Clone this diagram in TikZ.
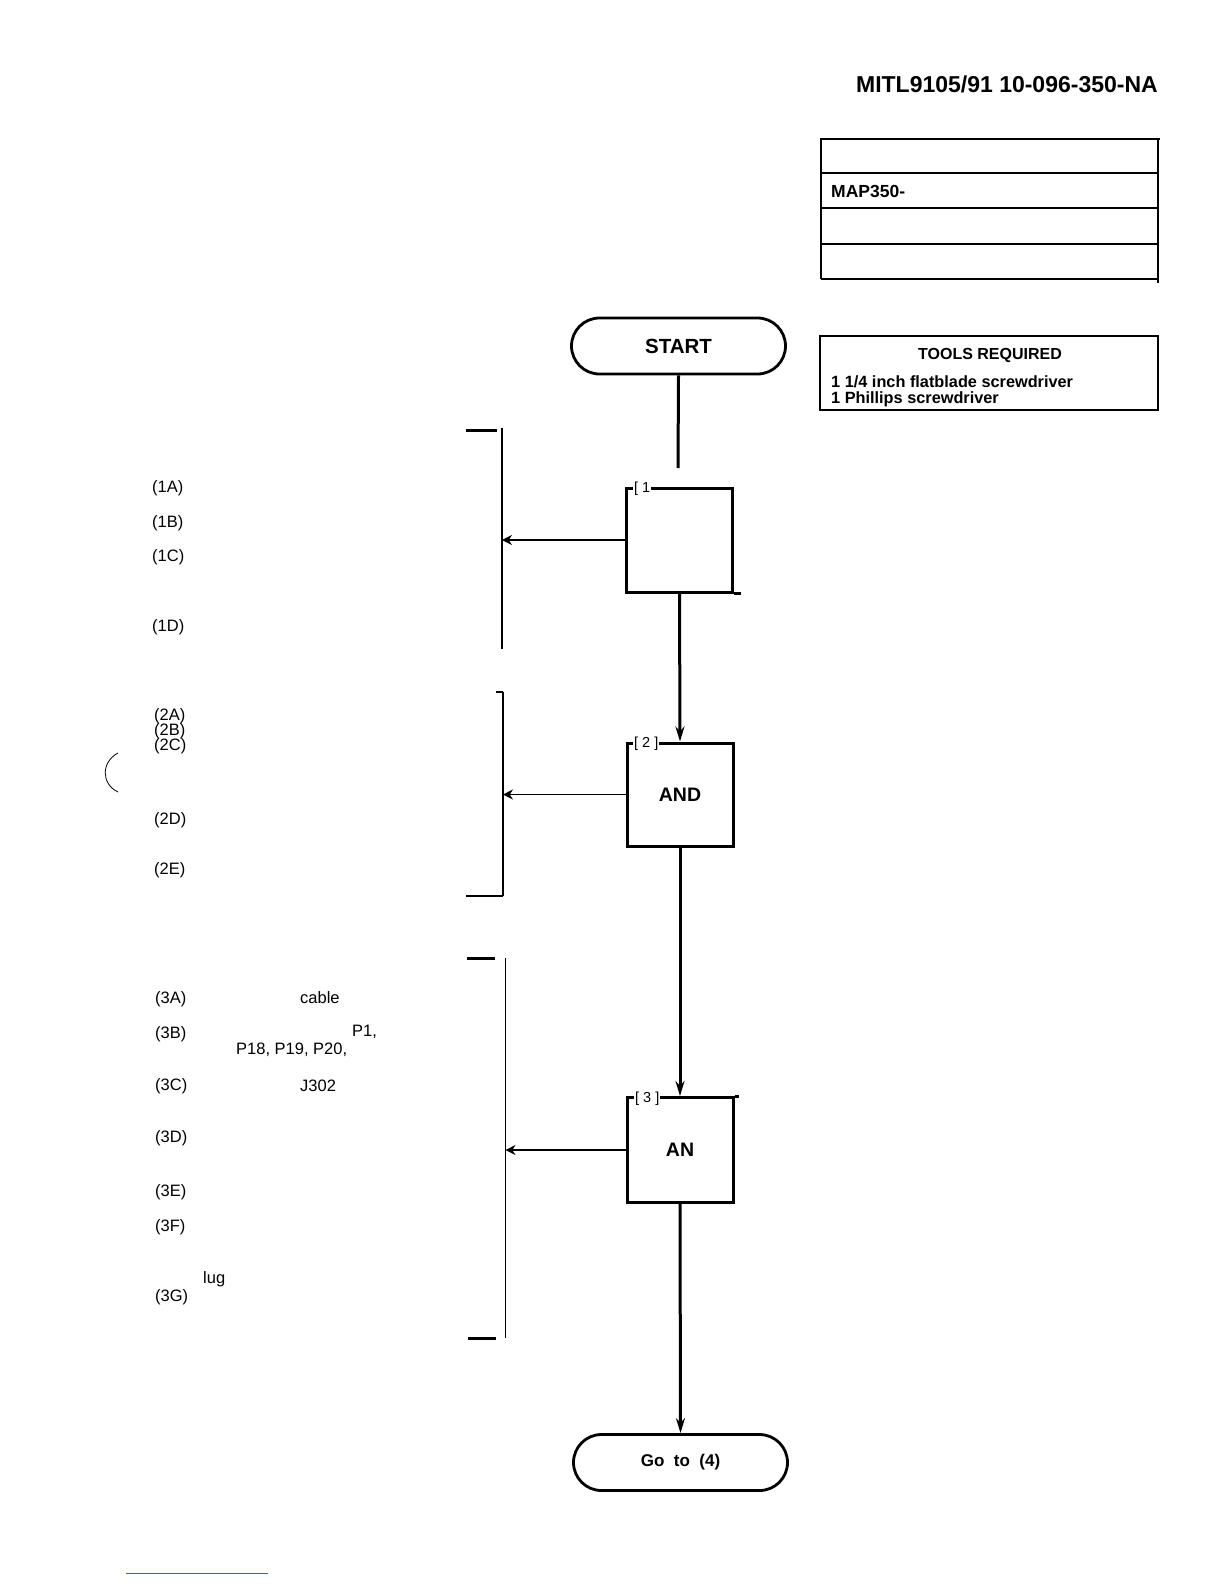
\documentclass[tikz,border=0pt]{standalone}
\usepackage{fontspec}
\setmainfont{Liberation Sans}
\usetikzlibrary{arrows.meta}
\begin{document}
\begin{tikzpicture}[x=1pt,y=-1pt,
  box/.style={draw, line width=3pt, minimum width=106pt, minimum height=104pt, inner sep=0pt, font=\bfseries\fontsize{19.5}{22}\selectfont},
  term/.style={draw, line width=2.8pt, rounded corners=28pt, minimum width=214pt, minimum height=56pt, inner sep=0pt},
  tag/.style={fill=white, inner xsep=1pt, inner ysep=0pt, anchor=west, font=\fontsize{14.5}{14.5}\selectfont},
  lbl/.style={anchor=west, inner sep=0pt, font=\fontsize{16.5}{18}\selectfont},
  flow/.style={line width=3pt},
  flowarrow/.style={line width=3pt, -{Stealth[length=15pt,width=9pt]}},
  sidearrow/.style={line width=1.4pt, -{Stealth[length=10pt,width=10pt]}},
  bracketline/.style={line width=1.3pt},
  brackettick/.style={line width=3pt},
  tablerule/.style={line width=1.6pt}
]
\useasboundingbox (0,0) rectangle (1224,1584);

% header
\node[anchor=east, inner sep=0pt, font=\bfseries\fontsize{23}{26}\selectfont] (hdr) at (1158,84) {MITL9105/91 10-096-350-NA};

% table
\draw[tablerule, line width=2.2pt] (820,139) -- (1160,139);
\draw[tablerule] (821,173) -- (1158,173);
\draw[tablerule] (821,208) -- (1158,208);
\draw[tablerule, line width=2pt] (821,244) -- (1158,244);
\draw[tablerule] (821,279) -- (1158,279);
\draw[tablerule] (821,139) -- (821,279);
\draw[tablerule] (1158,139) -- (1158,283);
\node[anchor=west, inner sep=0pt, font=\bfseries\fontsize{17.5}{20}\selectfont] (map) at (831,191) {MAP350-};

% tools box
\draw[line width=1.5pt] (820,336) rectangle (1158,410);
\node[inner sep=0pt, font=\bfseries\fontsize{16}{18}\selectfont] (tools) at (990,355) {TOOLS REQUIRED};
\node[anchor=west, inner sep=0pt, font=\bfseries\fontsize{16.3}{18}\selectfont] (tool1) at (831,382) {1 1/4 inch flatblade screwdriver};
\node[anchor=west, inner sep=0pt, font=\bfseries\fontsize{16.3}{18}\selectfont] (tool2) at (831,399) {1 Phillips screwdriver};

% flow nodes
\node[term, font=\bfseries\fontsize{20.5}{24}\selectfont] (start) at (678.5,346) {START};
\node[box, minimum height=104pt] (b1) at (679.5,540) {};
\node[box, minimum height=103pt] (b2) at (680,794.5) {AND};
\node[box, minimum height=105pt] (b3) at (680,1150) {AN};
\node[term, font=\bfseries\fontsize{17}{20}\selectfont] (goto) at (680.5,1462.5) {Go\ \ to\ \ (4)};

% box tags
\node[tag] (t1) at (633,489) {[\hspace{4pt}1\hspace{11pt}};
\node[tag] (t2) at (633,744) {[\hspace{4pt}2\hspace{4pt}]};
\node[tag] (t3) at (634,1099) {[\hspace{4pt}3\hspace{4pt}]};
\draw[line width=3pt] (b1.south east) -- ++(7,0);
\draw[line width=3pt] (b3.north east) -- ++(4,0);

% main flow
\coordinate (s1end) at (678,468);
\draw[flow] (start.south) -- (s1end);
\draw[flowarrow] (b1.south) -- (b2.north);
\draw[flowarrow] (b2.south) -- (b3.north);
\draw[flowarrow] (b3.south) -- (goto.north);

% bracket 1
\coordinate (br1t) at (502,428);
\coordinate (br1b) at (502,649);
\draw[bracketline] (br1t) -- (br1b);
\draw[brackettick] (466,430) -- (497,430);
\draw[sidearrow] (b1.west) -- (b1.west -| br1t);

% bracket 2
\coordinate (br2t) at (503,692);
\coordinate (br2b) at (503,896);
\draw[bracketline] (br2t) -- (br2b);
\draw[bracketline] (496,692) -- (br2t);
\draw[bracketline] (466,896) -- (br2b);
\draw[sidearrow] (b2.west) -- (b2.west -| br2t);

% bracket 3
\coordinate (br3t) at (505.5,958);
\coordinate (br3b) at (505.5,1338);
\draw[bracketline] (br3t) -- (br3b);
\draw[brackettick] (467,958) -- (495,958);
\draw[brackettick] (468,1338) -- (496,1338);
\draw[sidearrow] (b3.west) -- (b3.west -| br3t);

% step labels
\node[lbl] (l1a) at (152,488) {(1A)};
\node[lbl] (l1b) at (152,523) {(1B)};
\node[lbl] (l1c) at (152,557) {(1C)};
\node[lbl] (l1d) at (152,627) {(1D)};
\node[lbl] (l2a) at (154,716) {(2A)};
\node[lbl] (l2b) at (154,731) {(2B)};
\node[lbl] (l2c) at (154,746) {(2C)};
\node[lbl] (l2d) at (154,820) {(2D)};
\node[lbl] (l2e) at (154,870) {(2E)};
\node[lbl] (l3a) at (155,999) {(3A)};
\node[lbl] (cable) at (300,998) {cable};
\node[lbl] (l3b) at (155,1034) {(3B)};
\node[lbl] (p1) at (352,1032) {P1,};
\node[lbl] (p18) at (236,1050) {P18, P19, P20,};
\node[lbl] (l3c) at (155,1086) {(3C)};
\node[lbl] (j302) at (300,1086) {J302};
\node[lbl] (l3d) at (155,1138) {(3D)};
\node[lbl] (l3e) at (155,1192) {(3E)};
\node[lbl] (l3f) at (155,1227) {(3F)};
\node[lbl] (lug) at (203,1279) {lug};
\node[lbl] (l3g) at (155,1297) {(3G)};

% marks on the page
\draw[line width=0.8pt] (118,753) .. controls (101,762) and (101,784) .. (118,792);
\draw[line width=1pt, blue!70] (126,1573) -- (268,1573);
\end{tikzpicture}
\end{document}
